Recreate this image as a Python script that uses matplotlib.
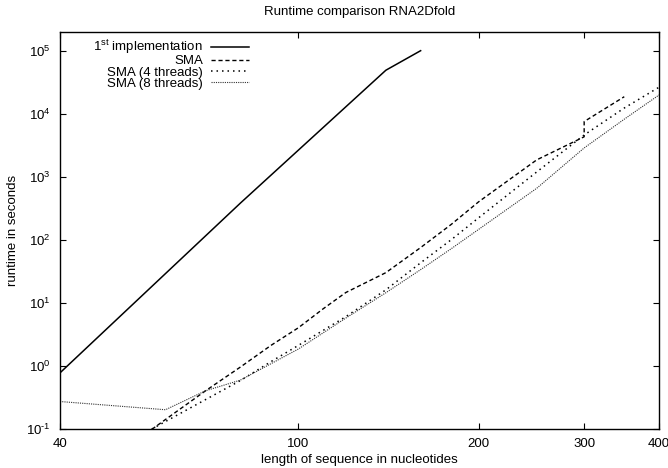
import matplotlib

matplotlib.use("Agg")

import matplotlib.pyplot as plt
from matplotlib.ticker import FixedFormatter, FixedLocator, NullLocator

plt.rcParams["font.family"] = ["Liberation Sans", "DejaVu Sans"]
plt.rcParams["mathtext.fontset"] = "custom"
plt.rcParams["mathtext.rm"] = "Liberation Sans"
plt.rcParams["mathtext.it"] = "Liberation Sans:italic"
plt.rcParams["mathtext.bf"] = "Liberation Sans:bold"

# sequence length (nt) vs runtime (s)
first_len = [40, 80, 140, 160]
first_time = [0.77, 380, 49000, 100000]

sma_len = [50, 60, 70, 80, 90, 100, 110, 120, 140, 160, 180, 200, 250, 300, 300, 350]
sma_time = [0.04, 0.14, 0.40, 0.95, 2.1, 4.0, 8.0, 14.5, 30, 75, 175, 400, 1850,
            4300, 7500, 18600]

sma4_len = [50, 60, 70, 80, 90, 100, 120, 140, 160, 180, 200, 250, 300, 350, 400]
sma4_time = [0.05, 0.13, 0.29, 0.58, 1.16, 2.1, 6.0, 16, 43, 100, 223, 1190, 4590,
             12300, 26300]

sma8_len = [40, 60, 70, 80, 100, 120, 140, 160, 180, 200, 250, 300, 350, 400]
sma8_time = [0.27, 0.20, 0.40, 0.59, 1.84, 5.7, 14.4, 33.5, 72, 146, 655, 2860, 8180,
             19800]

labels = [r"1$^{\mathrm{st}}$ implementation", "SMA", "SMA (4 threads)", "SMA (8 threads)"]
x_ticks = [40, 100, 200, 300, 400]
y_ticks = [0.1, 1, 10, 100, 1000, 10000, 100000]
y_tick_labels = ["$10^{\u20101}$", r"$10^{0}$", r"$10^{1}$", r"$10^{2}$", r"$10^{3}$",
                 r"$10^{4}$", r"$10^{5}$"]

fig = plt.figure(figsize=(6.68, 4.68), dpi=100)
ax = fig.add_axes([60 / 668, 1 - 428.7 / 468, 599 / 668, 396.7 / 468])

ax.plot(first_len, first_time, color="black", lw=1.1, label=labels[0])
ax.plot(sma_len, sma_time, color="black", lw=1.0, linestyle=(0, (3, 2)), label=labels[1])
ax.plot(sma4_len, sma4_time, color="black", lw=1.1, linestyle=(0, (1, 2.6)),
        label=labels[2])
ax.plot(sma8_len, sma8_time, color="0.2", lw=0.8, linestyle=(0, (1, 1)),
        label=labels[3])

ax.set_xscale("log")
ax.set_yscale("log")
ax.set_xlim(40, 400)
ax.set_ylim(0.1, 1.98e5)

ax.xaxis.set_major_locator(FixedLocator(x_ticks))
ax.xaxis.set_major_formatter(FixedFormatter([str(t) for t in x_ticks]))
ax.xaxis.set_minor_locator(NullLocator())
ax.yaxis.set_major_locator(FixedLocator(y_ticks))
ax.yaxis.set_major_formatter(FixedFormatter(y_tick_labels))
ax.yaxis.set_minor_locator(NullLocator())

ax.tick_params(direction="in", length=4.5, width=0.8, top=True, right=True,
               labelsize=9.5, pad=7)
for spine in ax.spines.values():
    spine.set_linewidth(1.0)

ax.set_xlabel("length of sequence in nucleotides", fontsize=9.5)
ax.set_ylabel("runtime in seconds", fontsize=9.5)
ax.xaxis.set_label_coords(0.5, -0.064)
ax.yaxis.set_label_coords(-0.068, 0.5)
ax.set_title("Runtime comparison RNA2Dfold", fontsize=9.5, pad=12)

ax.legend(loc="upper right", bbox_to_anchor=(0.316, 0.985), frameon=False,
          markerfirst=False, fontsize=9.5, handlelength=2.9, handletextpad=0.6,
          borderpad=0, borderaxespad=0, labelspacing=-0.08)

fig.savefig("out.png", dpi=100)
